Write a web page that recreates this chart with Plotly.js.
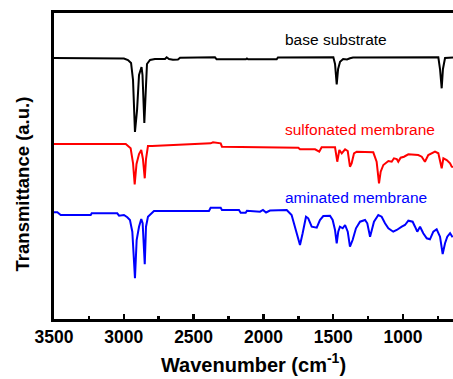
<!DOCTYPE html>
<html>
<head>
<meta charset="utf-8">
<script src="https://cdn.plot.ly/plotly-3.0.1.min.js"></script>
<style>html,body{margin:0;padding:0;background:#fff}#chart{width:453px;height:379px}</style>
</head>
<body>
<div id="chart"></div>
<script>
// Wavenumbers (cm-1) and offset transmittance (a.u.)
const baseWn = [3500,3027,2999,2970,2948,2934,2920,2905,2891,2873,2866,2853,2845,2834,2812,2777,2705,2693,2676,2648,2612,2597,2347,2335,2125,2118,2110,1905,1896,1499,1487,1475,1465,1451,1429,1401,1380,1358,747,735,723,714,699,642];
const baseT  = [261,261,260.5,259,256,239,187,209,244,252,244,196,229,255,259,260,260,261.7,260,259.3,259.5,261.3,261.7,259.7,259.7,260.5,259.7,259.7,261.5,261.7,255,234.7,250,257.3,260,259.5,260.7,261.5,261.7,250,230.7,250,261,261.5];

const sulfWn = [3500,2986,2951,2934,2922,2909,2891,2875,2863,2850,2841,2827,2798,2378,2361,2306,2297,1750,1738,1630,1600,1583,1487,1471,1456,1439,1415,1396,1380,1368,1351,1332,1213,1189,1172,1160,1141,1105,1081,1065,1045,1034,1017,993,962,926,891,866,843,819,795,771,747,723,711,687,663,651,642];
const sulfT  = [175,175,170.7,156,134.7,155,165,169,160,140.7,160,173,173,175.7,176.7,175.7,172.3,171.3,169.7,169.7,167.3,171.7,171.7,157.3,169,165.7,169.7,168,152.3,155.7,165.7,167.3,166.7,157.3,135.7,147.3,154,158,157.3,160.7,160,157.3,161.3,162.3,164.7,164,164,162.3,157.3,164,165.7,167.3,165.7,150.7,160.7,159,155.7,152.3,152];

const aminWn = [3500,3476,3452,3237,3230,3047,3034,2999,2975,2956,2939,2920,2908,2891,2875,2865,2850,2841,2827,2803,2784,2390,2378,2306,2297,2175,2163,2127,2118,2024,2003,1981,1953,1833,1798,1762,1738,1719,1695,1679,1654,1618,1595,1571,1523,1504,1487,1475,1464,1452,1432,1415,1396,1380,1361,1337,1308,1272,1256,1236,1224,1208,1177,1153,1129,1105,1070,1045,1009,986,962,931,914,898,878,855,830,807,783,759,735,716,699,683,663,645];
const aminT  = [106.7,106.7,104,104,105.7,105.7,103.3,104,101.7,99,87.3,40.7,79,92.3,100,95.7,54.7,92.3,102.3,105,108,108,111.3,111.3,109,109,106.3,106.3,108.3,107.3,109,106.5,108.5,109,104,86,74,85.7,102.3,100.7,92.3,91.3,99,103,103.3,99,89,75.7,87.3,92.3,90.7,94,87.3,72.3,79,90.7,97.3,99,95.7,82.3,89,97.3,104,102.3,95.7,90.7,87.3,89,92.3,94,98.3,97.3,92.3,87.3,92.3,85.7,80.7,79.7,87.3,89.7,82.3,65,75.7,82.3,85.7,81.7];

const seriesNames = ["base substrate","sulfonated membrane","aminated membrane"];
const seriesColors = ["#000000","#ff0000","#0000ff"];
const labelWn = [1860,1860,1860];
const labelT = [280,190,122];

const tickVals = [3500,3000,2500,2000,1500,1000];
const tickText = ["3500","3000","2500","2000","1500","1000"];

const xs = [baseWn, sulfWn, aminWn];
const ys = [baseT, sulfT, aminT];
const traces = xs.map((x,i)=>({
  x: x, y: ys[i], type:"scatter", mode:"lines", name: seriesNames[i],
  line:{color: seriesColors[i], width:2}, hoverinfo:"skip"
}));

const FONT = "Arial, 'Liberation Sans', sans-serif";
const annotations = seriesNames.map((t,i)=>({
  x: labelWn[i], y: labelT[i], xref:"x", yref:"y", text: t, showarrow:false,
  xanchor:"left", yanchor:"middle",
  font:{family:FONT, size:15.5, color: seriesColors[i]}
}));
// y-axis title placed as a rotated annotation (sits slightly below the axis centre in the reference)
annotations.push({
  xref:"paper", yref:"paper", x:-0.08, y:0.44, xanchor:"center", yanchor:"middle",
  text:"<b>Transmittance (a.u.)</b>", textangle:-90, showarrow:false,
  font:{family:FONT, size:18.5, color:"#000"}
});

const layout = {
  width:453, height:379,
  margin:{l:54, r:0, t:13, b:60},
  paper_bgcolor:"#fff", plot_bgcolor:"#fff",
  showlegend:false,
  font:{family:FONT, color:"#000"},
  xaxis:{
    range:[3500,642], autorange:false,
    tickvals: tickVals, ticktext: tickText,
    ticks:"inside", ticklen:5, tickwidth:2.5, tickcolor:"#000",
    minor:{dtick:250, tick0:3500, ticks:"inside", ticklen:3, tickwidth:2.5, tickcolor:"#000"},
    showline:true, linewidth:3, linecolor:"#000", mirror:true,
    showgrid:false, zeroline:false,
    tickfont:{family:FONT, size:17.5, color:"#000", weight:"bold"},
    title:{text:"<b>Wavenumber (cm<sup>-1</sup>)</b>", font:{family:FONT, size:20, color:"#000"}, standoff:12}
  },
  yaxis:{
    range:[0,306], autorange:false,
    showticklabels:false, ticks:"",
    showline:true, linewidth:3, linecolor:"#000", mirror:false,
    showgrid:false, zeroline:false
  },
  annotations: annotations
};

Plotly.newPlot("chart", traces, layout, {staticPlot:true, displayModeBar:false});
</script>
</body>
</html>
